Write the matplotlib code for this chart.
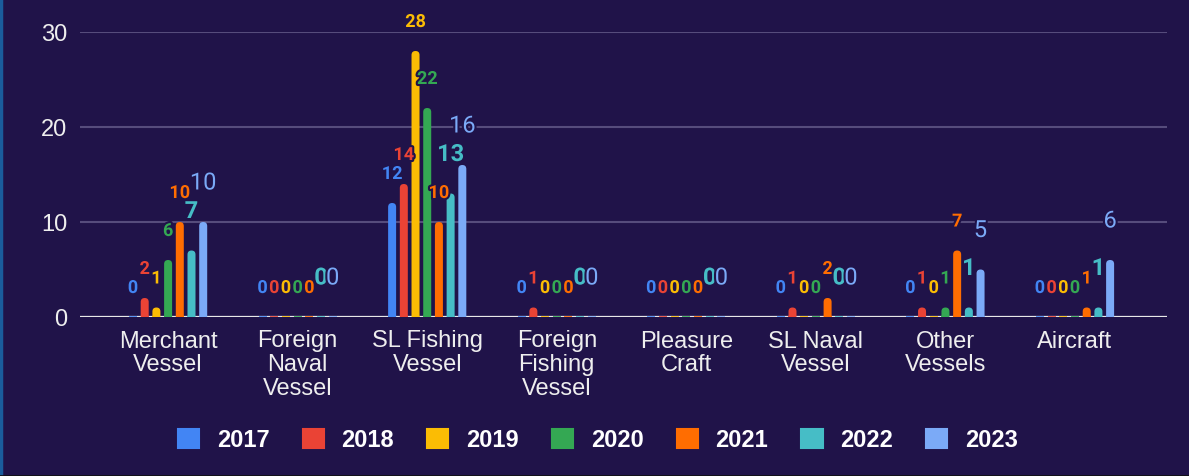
import matplotlib.pyplot as plt
import matplotlib.patheffects as pe
from matplotlib.patches import Patch, FancyBboxPatch
import numpy as np

categories = ["Merchant\nVessel", "Foreign\nNaval\nVessel", "SL Fishing\nVessel",
              "Foreign\nFishing\nVessel", "Pleasure\nCraft", "SL Naval\nVessel",
              "Other\nVessels", "Aircraft"]
years = ["2017", "2018", "2019", "2020", "2021", "2022", "2023"]
values = {
    "2017": [0, 0, 12, 0, 0, 0, 0, 0],
    "2018": [2, 0, 14, 1, 0, 1, 1, 0],
    "2019": [1, 0, 28, 0, 0, 0, 0, 0],
    "2020": [6, 0, 22, 0, 0, 0, 1, 0],
    "2021": [10, 0, 10, 0, 0, 2, 7, 1],
    "2022": [7, 0, 13, 0, 0, 0, 1, 1],
    "2023": [10, 0, 16, 0, 0, 0, 5, 6],
}
colors = ["#4285f4", "#ea4335", "#fbbc04", "#34a853", "#ff6d01", "#46bdc6", "#7baaf7"]

BG = "#201349"

fig = plt.figure(figsize=(11.89, 4.77), dpi=100, facecolor=BG)
ax = fig.add_axes([80 / 1189, 159 / 477, 1087 / 1189, 285 / 477], facecolor=BG)

xlim = (-0.68, 7.71)
ylim = (0, 30)
ax.set_xlim(*xlim)
ax.set_ylim(*ylim)
# pixel -> data factors, used to keep the rounded bar tops circular
px_x = (xlim[1] - xlim[0]) / 1087
px_y = (ylim[1] - ylim[0]) / 285

x = np.arange(len(categories))
step = 0.0903
width = 8 * px_x
r = 4 * px_x
halo = [pe.withStroke(linewidth=3, foreground=BG)]
for i, (yr, c) in enumerate(zip(years, colors)):
    pos = x + (i - 3) * step
    # every bar leaves a thin coloured stroke on the baseline (visible for zeros)
    ax.bar(pos, np.zeros(len(pos)), width, color=c, edgecolor=c, linewidth=1.2, zorder=3)
    big = i >= 5
    for p, v in zip(pos, values[yr]):
        if v > 0:
            ax.add_patch(FancyBboxPatch((p - width / 2 + r, -4 * px_y), width - 2 * r,
                                        v + 4 * px_y - r * (px_y / px_x),
                                        boxstyle=f"round,pad={r},rounding_size={r}",
                                        mutation_aspect=px_y / px_x,
                                        facecolor=c, edgecolor="none", zorder=3.5))
        ax.annotate(str(v), (p, v),
                    xytext=(0, 39 if big else 29), textcoords="offset pixels",
                    ha="center", va="center", color=c, family="Roboto",
                    fontsize=17 if big else 13,
                    fontweight="normal" if i == 6 else "bold",
                    path_effects=halo, zorder=4, annotation_clip=False)

ax.set_yticks([0, 10, 20, 30])
ax.set_xticks(x)
ax.set_xticklabels(categories, linespacing=1.1)
ax.tick_params(length=0, colors="#eeeeee", labelsize=17, pad=9)
for lab in ax.get_xticklabels() + ax.get_yticklabels():
    lab.set_family("Liberation Sans")
ax.grid(axis="y", color="#564c7c", linewidth=1.5, zorder=1)
ax.axhline(0, color="#e8e8e8", linewidth=1.6, zorder=2)
for s in ax.spines.values():
    s.set_visible(False)

handles = [Patch(facecolor=c, edgecolor=c, linewidth=1.5, joinstyle="round", label=y)
           for y, c in zip(years, colors)]
leg = fig.legend(handles=handles, loc="center", bbox_to_anchor=(598 / 1189, 0.0755),
                 ncol=7, frameon=False, handlelength=0.9, handleheight=0.9,
                 handletextpad=0.75, columnspacing=1.4,
                 prop={"family": "Liberation Sans", "weight": "bold", "size": 17})
for t in leg.get_texts():
    t.set_color("#ffffff")

# thin frame edges of the card
fig.add_artist(plt.Line2D([0.001, 0.001], [0, 1], color="#1a5c9c", linewidth=2.5,
                          transform=fig.transFigure))
fig.add_artist(plt.Line2D([0, 1], [0.001, 0.001], color="#111111", linewidth=1.2,
                          transform=fig.transFigure))

plt.savefig("out.png", dpi=100, facecolor=BG)
